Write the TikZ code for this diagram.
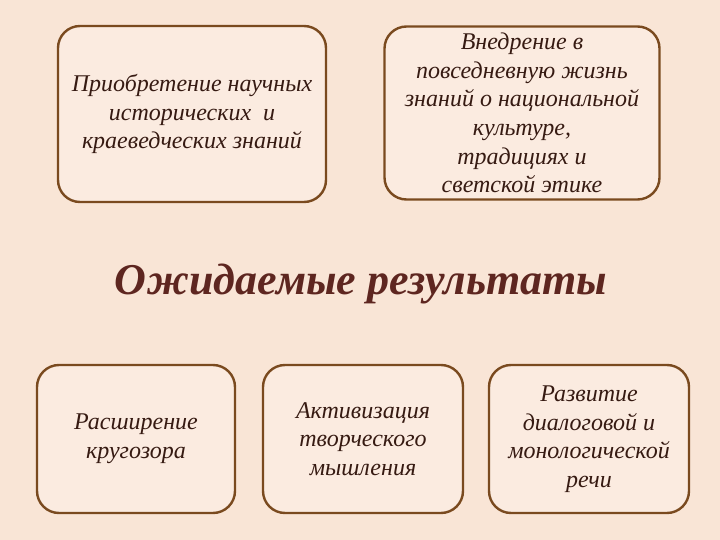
\documentclass[tikz,border=0pt]{standalone}
\usepackage{fontspec}
\setmainfont{Liberation Serif}
\usepackage{xcolor}
\usetikzlibrary{positioning}

\definecolor{pagebg}{HTML}{F9E5D6}
\definecolor{boxfill}{HTML}{FBEBE0}
\definecolor{boxline}{HTML}{7A4A1F}
\definecolor{boxtext}{HTML}{361A12}
\definecolor{titletext}{HTML}{5E2620}

\begin{document}
\begin{tikzpicture}[
    x=1pt, y=-1pt,
    resultbox/.style={rectangle, rounded corners=22pt, draw=boxline, line width=2.4pt, fill=boxfill, inner sep=0pt, align=center, text=boxtext, font=\fontsize{24}{28.6}\selectfont\itshape},
    heading/.style={text=titletext, font=\fontsize{44}{50}\selectfont\bfseries\itshape}
]

% Background
\fill[pagebg] (0,0) rectangle (720,540);
\useasboundingbox (0,0) rectangle (720,540);

% Top row
\node[resultbox, minimum width=268pt, minimum height=176pt] (knowledge) at (192,114) {Приобретение научных\\исторических\ \ и\\краеведческих знаний};
\node[resultbox, minimum width=275pt, minimum height=173pt] (culture) at (522,113) {Внедрение в\\повседневную жизнь\\знаний о национальной\\культуре,\\традициях и\\светской этике};

% Title
\node[heading] (title) at (361,284) {Ожидаемые результаты};

% Bottom row
\node[resultbox, minimum width=198pt, minimum height=148pt] (outlook) at (136,439) {Расширение\\кругозора};
\node[resultbox, minimum width=200pt, minimum height=148pt] (thinking) at (363,439) {Активизация\\творческого\\мышления};
\node[resultbox, minimum width=200pt, minimum height=148pt] (speech) at (589,439) {Развитие\\диалоговой и\\монологической\\речи};

\end{tikzpicture}
\end{document}
